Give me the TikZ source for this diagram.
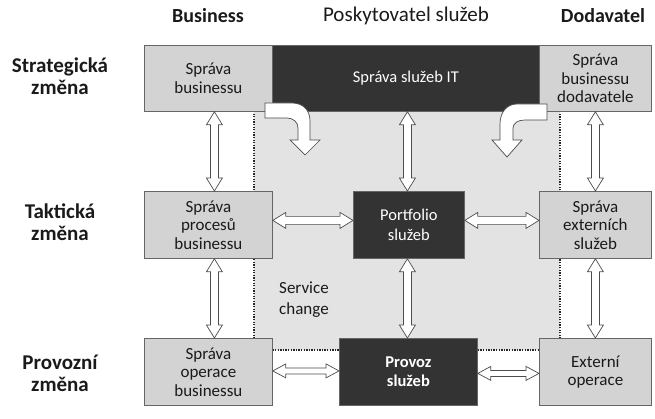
\documentclass[tikz,border=0pt]{standalone}
\usepackage{fontspec}
\setmainfont{Carlito}
\usetikzlibrary{calc}
\definecolor{boxgray}{HTML}{D3D3D3}
\definecolor{bggray}{HTML}{E3E3E3}
\definecolor{darkbox}{HTML}{333333}
\definecolor{edge}{HTML}{666666}
\definecolor{txt}{HTML}{1A1A1A}
\tikzset{
  gbox/.style={draw=edge, line width=0.8pt, fill=boxgray, text=txt, align=center, anchor=north west,
    inner sep=0pt, font=\fontsize{17}{18.5}\selectfont},
  dbox/.style={draw=edge, line width=0.8pt, fill=darkbox, text=white, align=center, anchor=north west,
    inner sep=0pt, font=\fontsize{16.5}{19.5}\selectfont},
  head/.style={text=txt, font=\fontsize{21}{24}\selectfont},
  rowlab/.style={text=txt, align=center, font=\bfseries\fontsize{21}{22}\selectfont},
  arr/.style={draw=black!70, fill=white, line width=0.7pt, line join=miter},
  dots/.style={line width=1.4pt, dash pattern=on 1.3pt off 1.3pt, draw=black!85}
}
% vertical double hollow arrow: #1 top point, #2 bottom point
\newcommand{\vdarrow}[2]{\draw[arr] let \p1=(#1), \p2=(#2) in
  (\x1,\y1) -- (\x1+8pt,\y1-13pt) -- (\x1+4pt,\y1-13pt) -- (\x1+4pt,\y2+13pt) -- (\x1+8pt,\y2+13pt)
  -- (\x1,\y2) -- (\x1-8pt,\y2+13pt) -- (\x1-4pt,\y2+13pt) -- (\x1-4pt,\y1-13pt) -- (\x1-8pt,\y1-13pt) -- cycle;}
% horizontal double hollow arrow: #1 left point, #2 right point, #3 shaft half width, #4 head half width
\newcommand{\hdarrow}[4]{\draw[arr] let \p1=(#1), \p2=(#2) in
  (\x1,\y1) -- (\x1+13pt,\y1+#4) -- (\x1+13pt,\y1+#3) -- (\x2-13pt,\y1+#3) -- (\x2-13pt,\y1+#4)
  -- (\x2,\y1) -- (\x2-13pt,\y1-#4) -- (\x2-13pt,\y1-#3) -- (\x1+13pt,\y1-#3) -- (\x1+13pt,\y1-#4) -- cycle;}
\begin{document}
\begin{tikzpicture}[x=1pt,y=-1pt]
\useasboundingbox (0,0) rectangle (655,419);
% background service change area
\fill[bggray] (254,111) rectangle (560,350);
\draw[dots] (254,111) -- (254,350) -- (560,350) -- (560,111);

% headers
\node[head, font=\bfseries\fontsize{20}{24}\selectfont] (hb) at (208,16) {Business};
\node[head] (hp) at (406,16) {Poskytovatel služeb};
\node[head, font=\bfseries\fontsize{20}{24}\selectfont] (hd) at (603,16) {Dodavatel};

% row labels
\node[rowlab] (ls) at (60,76) {Strategická\\změna};
\node[rowlab] (lt) at (60,222) {Taktická\\změna};
\node[rowlab] (lp) at (60,373) {Provozní\\změna};

% boxes
\node[gbox, minimum width=128pt, minimum height=66pt] (bs) at (144,45) {Správa\\businessu};
\node[dbox, minimum width=267pt, minimum height=66pt] (it) at (272,45) {Správa služeb IT};
\node[gbox, minimum width=112pt, minimum height=66pt] (ds) at (539,45) {Správa\\businessu\\dodavatele};

\node[gbox, minimum width=128pt, minimum height=67pt] (bp) at (144,191) {Správa\\procesů\\businessu};
\node[dbox, minimum width=111pt, minimum height=67pt] (pf) at (353,191) {Portfolio\\služeb};
\node[gbox, minimum width=112pt, minimum height=67pt] (es) at (539,191) {Správa\\externích\\služeb};

\node[gbox, minimum width=128pt, minimum height=67pt] (bo) at (144,338) {Správa\\operace\\businessu};
\node[dbox, minimum width=138pt, minimum height=67pt, font=\bfseries\fontsize{16.5}{19.5}\selectfont] (ps) at (339,338) {Provoz\\služeb};
\node[gbox, minimum width=112pt, minimum height=67pt] (eo) at (539,338) {Externí\\operace};

% service change label
\node[text=txt, align=left, anchor=north west, inner sep=0pt, font=\fontsize{17}{21}\selectfont] (sc) at (279,282) {Service\\change};

% vertical arrows
\vdarrow{$(bs.south)+(6,0)$}{$(bp.north)+(6,0)$}
\vdarrow{$(bp.south)+(6,0)$}{$(bo.north)+(6,0)$}
\vdarrow{$(it.south)+(1.5,0)$}{$(pf.north)+(-1.5,0)$}
\vdarrow{$(pf.south)+(-1.5,0)$}{$(ps.north)$}
\vdarrow{$(ds.south)$}{$(es.north)$}
\vdarrow{$(es.south)$}{$(eo.north)$}

% horizontal arrows
\hdarrow{$(bp.east)+(0,-4.5)$}{$(pf.west)+(0,-4.5)$}{4pt}{8pt}
\hdarrow{$(pf.east)+(0,-4.5)$}{$(es.west)+(0,-4.5)$}{4pt}{8pt}
\hdarrow{$(bo.east)+(0,-1)$}{$(ps.west)+(0,-1)$}{3pt}{7pt}
\hdarrow{$(ps.east)+(0,1.5)$}{$(eo.west)+(0,1.5)$}{3pt}{7pt}

% curved arrows from IT service management
\draw[arr] (265,103) -- (292,103) .. controls (303,103) and (310,110) .. (310,121)
  -- (310,140) -- (320,140) -- (305,155) -- (290,140) -- (298,140) -- (298,128)
  .. controls (298,122) and (293,118) .. (287,118) -- (265,118) -- cycle;
\draw[arr] (547,104) -- (517,104) .. controls (507,104) and (500,112) .. (500,124)
  -- (500,140) -- (492,140) -- (507,157) -- (522,140) -- (513,140) -- (513,128)
  .. controls (513,123) and (518,120) .. (525,120) -- (547,120) -- cycle;
\end{tikzpicture}
\end{document}
